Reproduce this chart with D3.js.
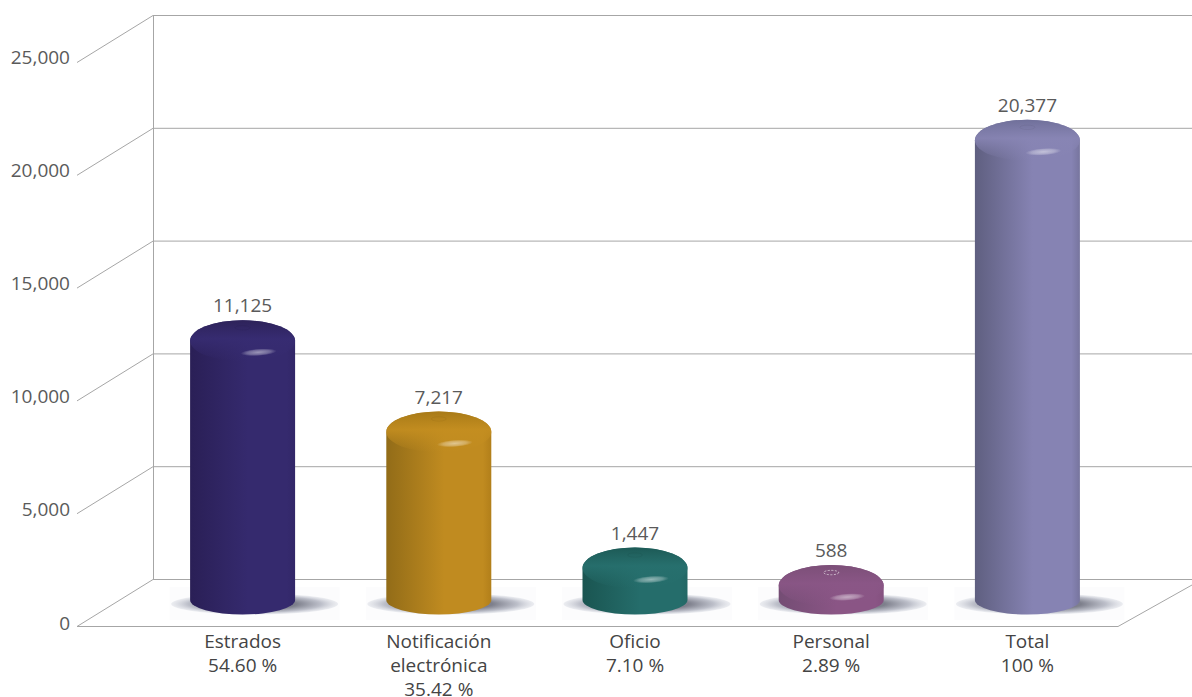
<!DOCTYPE html>
<html>
<head>
<meta charset="utf-8">
<script src="https://cdn.jsdelivr.net/npm/d3@7"></script>
<style>
html,body{margin:0;padding:0;background:#fff}
svg{display:block}
text{font-family:"Open Sans",sans-serif}
</style>
</head>
<body>
<svg id="chart"></svg>
<script>
var categories = ["Estrados","Notificación electrónica","Oficio","Personal","Total"]
var labelLines = [["Estrados","54.60 %"],["Notificación","electrónica","35.42 %"],["Oficio","7.10 %"],["Personal","2.89 %"],["Total","100 %"]]
var values = [11125,7217,1447,588,20377]
// the cylinders in the picture do not stand exactly at their labels, these are their heights read against the axis
var drawnHeights = [11490,7450,1418,640,20377]
var yTicks = [0,5000,10000,15000,20000,25000]
var darkColors = ["#2a1f56","#926c18","#1a5551","#744d74","#5f5f80"]
var midColors = ["#352a6e","#c08b20","#256d6b","#8a5585","#8683b3"]
var edgeColors = ["#322768","#b27f1a","#236865","#84517f","#77759e"]
var topColors = ["#372c72","#c48e20","#27706e","#8a5686","#8885b4"]
var topDarkColors = ["#2d2259","#a87a17","#1d5a56","#7c4f78","#70709a"]

var width = 1192, height = 697
var svg = d3.select("#chart").attr("width",width).attr("height",height)
var defs = svg.append("defs")

var depthX = 76, depthY = 47, wallX = 153, frontRight = 1118
var rx = 52.5, ryTop = 20.5, ryBase = 14.5, baseShift = 21

var y = d3.scaleLinear().domain([0,25000]).range([579,15])
var x = d3.scaleBand().domain(categories).range([144.5,1125.5])
var cx = d => x(d) + x.bandwidth()/2

// walls and floor
var grid = svg.append("g").attr("fill","none").attr("stroke","#a6a6a6").attr("stroke-width",1)
grid.selectAll(".back").data(yTicks).enter().append("line")
    .attr("x1",wallX).attr("x2",width)
    .attr("y1",d=>y(d)+.5).attr("y2",d=>y(d)+.5)
grid.selectAll(".side").data(yTicks).enter().append("line")
    .attr("x1",wallX).attr("x2",wallX-depthX)
    .attr("y1",d=>y(d)+.5).attr("y2",d=>y(d)+depthY+.5)
grid.append("line").attr("x1",wallX+.5).attr("x2",wallX+.5).attr("y1",y(25000)).attr("y2",y(0))
grid.append("line").attr("x1",wallX-depthX).attr("x2",frontRight).attr("y1",y(0)+depthY+.5).attr("y2",y(0)+depthY+.5)
grid.append("line").attr("x1",frontRight).attr("x2",width).attr("y1",y(0)+depthY+.5).attr("y2",y(0)+depthY-41)

// tick labels on the front edge of the left wall
var axis = d3.axisLeft(d3.scaleLinear().domain([0,25000]).range([y(0)+depthY-3,y(25000)+depthY-5]))
    .tickValues(yTicks).tickFormat(d3.format(",")).tickSize(0).tickPadding(0)
var axisG = svg.append("g").attr("transform","translate(70,0)").call(axis)
axisG.select(".domain").remove()
axisG.selectAll("text").attr("font-size",19).attr("fill","#5a5a5a").style("font-family",'"Open Sans",sans-serif')

// gradients
var shadowGrad = defs.append("radialGradient").attr("id","shadow").attr("cx","50%").attr("cy","50%").attr("r","50%")
shadowGrad.append("stop").attr("offset","50%").attr("stop-color","#777986").attr("stop-opacity",.95)
shadowGrad.append("stop").attr("offset","80%").attr("stop-color","#b2b5c1").attr("stop-opacity",.85)
shadowGrad.append("stop").attr("offset","100%").attr("stop-color","#d8dbe3").attr("stop-opacity",.45)

var glint = defs.append("radialGradient").attr("id","glint")
glint.append("stop").attr("offset","0%").attr("stop-color","#fff").attr("stop-opacity",.5)
glint.append("stop").attr("offset","65%").attr("stop-color","#fff").attr("stop-opacity",.28)
glint.append("stop").attr("offset","100%").attr("stop-color","#fff").attr("stop-opacity",0)

categories.forEach((c,i)=>{
  var g = defs.append("linearGradient").attr("id","body"+i).attr("x1",0).attr("x2",1).attr("y1",0).attr("y2",0)
  g.append("stop").attr("offset","0%").attr("stop-color",darkColors[i])
  g.append("stop").attr("offset","55%").attr("stop-color",midColors[i])
  g.append("stop").attr("offset","92%").attr("stop-color",midColors[i])
  g.append("stop").attr("offset","100%").attr("stop-color",edgeColors[i])
  var t = defs.append("linearGradient").attr("id","top"+i).attr("x1",0).attr("x2",0).attr("y1",0).attr("y2",1)
  t.append("stop").attr("offset","0%").attr("stop-color",topDarkColors[i])
  t.append("stop").attr("offset","45%").attr("stop-color",topColors[i]).attr("stop-opacity",.9)
  t.append("stop").attr("offset","75%").attr("stop-color",topColors[i]).attr("stop-opacity",.4)
  t.append("stop").attr("offset","100%").attr("stop-color",topColors[i]).attr("stop-opacity",0)
})

var rows = categories.map((c,i)=>({cat:c,i:i,value:values[i],drawn:drawnHeights[i],lines:labelLines[i]}))
var bars = svg.append("g").selectAll(".bar").data(rows).enter().append("g").classed("bar",true)

// pale patch and shadow under every cylinder
bars.append("rect")
    .attr("x",d=>cx(d.cat)+12-85).attr("width",170)
    .attr("y",y(0)+8).attr("height",33)
    .attr("fill","#fcfcfd")
bars.append("ellipse")
    .attr("cx",d=>cx(d.cat)+12).attr("cy",y(0)+25)
    .attr("rx",83.5).attr("ry",10.5)
    .attr("fill","url(#shadow)")

var baseY = y(0)+baseShift
bars.append("path")
    .attr("d",d=>{
      var top = y(d.drawn)+baseShift, c = cx(d.cat)
      return `M${c-rx},${top} A${rx},${ryTop} 0 0 1 ${c+rx},${top} L${c+rx},${baseY} A${rx},${ryBase} 0 0 1 ${c-rx},${baseY} Z`
    })
    .attr("fill",d=>`url(#body${d.i})`)
bars.append("ellipse")
    .attr("cx",d=>cx(d.cat)).attr("cy",d=>y(d.drawn)+baseShift)
    .attr("rx",rx).attr("ry",ryTop)
    .attr("fill",d=>`url(#top${d.i})`)
bars.append("ellipse")
    .attr("transform",d=>`translate(${cx(d.cat)+16},${y(d.drawn)+baseShift+11.5}) rotate(-4)`)
    .attr("rx",18).attr("ry",3.6)
    .attr("fill","url(#glint)")
// small ring on top of the cylinders, only clear on Personal
bars.append("ellipse")
    .attr("cx",d=>cx(d.cat)).attr("cy",d=>y(d.drawn)+baseShift-13)
    .attr("rx",7.5).attr("ry",2.2)
    .attr("fill","none")
    .attr("stroke",d=>d.cat==="Personal"?"#e8dde6":"#000")
    .attr("stroke-opacity",d=>d.cat==="Personal"?.9:.06)
    .attr("stroke-width",.8)
    .attr("stroke-dasharray",d=>d.cat==="Personal"?"2 1.5":null)

// value labels
bars.append("text")
    .attr("x",d=>cx(d.cat)).attr("y",d=>y(d.drawn)+baseShift-ryTop-14.5)
    .attr("dy","0.35em")
    .attr("text-anchor","middle")
    .attr("font-size",19).attr("fill","#5a5a5a")
    .text(d=>d3.format(",")(d.value))

// category labels
var catLabels = bars.append("text")
    .attr("text-anchor","middle")
    .attr("font-size",19).attr("fill","#444")
catLabels.selectAll("tspan").data(d=>d.lines.map((l,k)=>({l:l,k:k,c:d.cat}))).enter().append("tspan")
    .attr("x",d=>cx(d.c)).attr("y",d=>647.5+d.k*24)
    .text(d=>d.l)
</script>
</body>
</html>
